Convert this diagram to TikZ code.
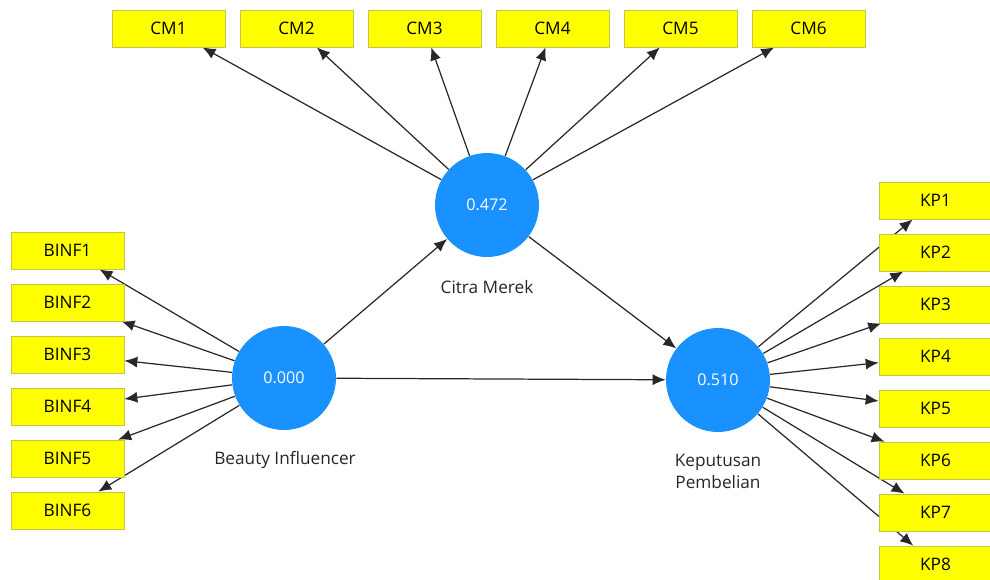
\documentclass[tikz,border=0pt]{standalone}
\usepackage{fontspec}
\setmainfont{Open Sans}
\usetikzlibrary{arrows.meta, backgrounds}

\definecolor{lvblue}{RGB}{25,145,255}
\definecolor{mvyellow}{RGB}{255,255,0}
\definecolor{mvedge}{RGB}{196,196,70}
\definecolor{linkgray}{RGB}{40,40,40}

\tikzset{
 ind/.style = {draw=mvedge, fill=mvyellow, minimum width=2.26cm, minimum height=0.74cm, inner sep=0pt, font=\fontsize{9.8}{11}\selectfont},
 lv/.style = {circle, fill=lvblue, text=white, minimum size=2.08cm, inner sep=0pt, font=\fontsize{9.2}{11}\selectfont},
 lvname/.style = {text=black!85, align=center, font=\fontsize{9.8}{12.5}\selectfont},
 link/.style = {draw=linkgray, line width=0.7pt, -{Latex[length=2.6mm, width=2.2mm]}}
}

\begin{document}
\begin{tikzpicture}[x = 0.02cm, y = -0.02cm]
 \useasboundingbox (0,0) rectangle (990,579);

 \node[lv] (BI) at (284,378) {0.000};
 \node[lv] (CR) at (487,205) {0.472};
 \node[lv] (KP) at (718,380) {0.510};

 \node[lvname] (BIname) at (285,460) {Beauty Influencer};
 \node[lvname] (CRname) at (487,287) {Citra Merek};
 \node[lvname] (KPname) at (718,471) {Keputusan\\Pembelian};

 \node[ind] (CM1) at (168.5,28.5) {CM1};
 \node[ind] (CM2) at (296.5,28.5) {CM2};
 \node[ind] (CM3) at (424.5,28.5) {CM3};
 \node[ind] (CM4) at (552.5,28.5) {CM4};
 \node[ind] (CM5) at (680.5,28.5) {CM5};
 \node[ind] (CM6) at (808.5,28.5) {CM6};

 \node[ind] (BINF1) at (67.5,250.5) {BINF1};
 \node[ind] (BINF2) at (67.5,302.5) {BINF2};
 \node[ind] (BINF3) at (67.5,354.5) {BINF3};
 \node[ind] (BINF4) at (67.5,406.5) {BINF4};
 \node[ind] (BINF5) at (67.5,458.5) {BINF5};
 \node[ind] (BINF6) at (67.5,510.5) {BINF6};

 \node[ind] (KP1) at (935.5,200.5) {KP1};
 \node[ind] (KP2) at (935.5,252.5) {KP2};
 \node[ind] (KP3) at (935.5,304.5) {KP3};
 \node[ind] (KP4) at (935.5,356.5) {KP4};
 \node[ind] (KP5) at (935.5,408.5) {KP5};
 \node[ind] (KP6) at (935.5,460.5) {KP6};
 \node[ind] (KP7) at (935.5,512.5) {KP7};
 \node[ind] (KP8) at (935.5,564.5) {KP8};

 \begin{scope}[on background layer]
 \draw[link] (BI) -- (CR);
 \draw[link] (BI) -- (KP);
 \draw[link] (CR) -- (KP);

 \draw[link] (CR) -- (CM1);
 \draw[link] (CR) -- (CM2);
 \draw[link] (CR) -- (CM3);
 \draw[link] (CR) -- (CM4);
 \draw[link] (CR) -- (CM5);
 \draw[link] (CR) -- (CM6);

 \draw[link] (BI) -- (BINF1);
 \draw[link] (BI) -- (BINF2);
 \draw[link] (BI) -- (BINF3);
 \draw[link] (BI) -- (BINF4);
 \draw[link] (BI) -- (BINF5);
 \draw[link] (BI) -- (BINF6);

 \draw[link] (KP) -- (KP1);
 \draw[link] (KP) -- (KP2);
 \draw[link] (KP) -- (KP3);
 \draw[link] (KP) -- (KP4);
 \draw[link] (KP) -- (KP5);
 \draw[link] (KP) -- (KP6);
 \draw[link] (KP) -- (KP7);
 \draw[link] (KP) -- (KP8);
 \end{scope}
\end{tikzpicture}
\end{document}
